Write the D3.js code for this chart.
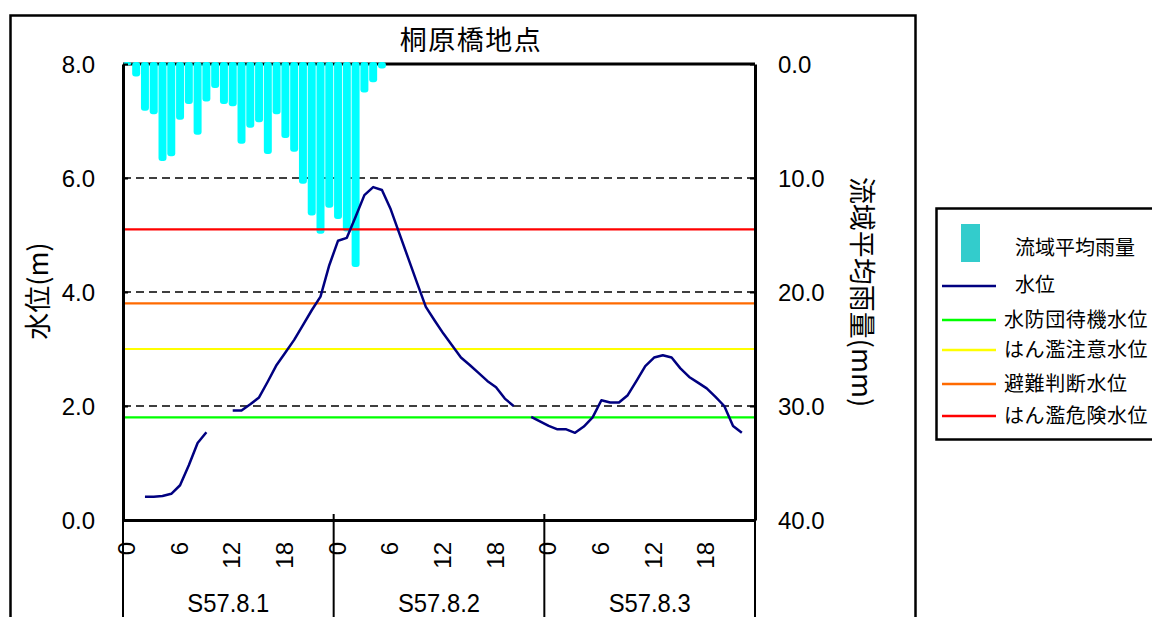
<!DOCTYPE html>
<html>
<head>
<meta charset="utf-8">
<script src="https://cdnjs.cloudflare.com/ajax/libs/d3/7.8.5/d3.min.js"></script>
<style>
    body { margin: 0; background: #fff; }
    text { font-family: "Liberation Sans", Arial, sans-serif; fill: #000; }
    .jp { font-family: "Noto Sans CJK JP", "Noto Sans", sans-serif; }
</style>
</head>
<body>
<div id="chart-area"></div>
<script>

/*
 *  Data (hourly, 3 days)
 */

var chartTitle = "桐原橋地点";
var dayLabels = ["S57.8.1", "S57.8.2", "S57.8.3"];
var hourTickLabels = [0, 6, 12, 18];
var levelTicks = [0, 2, 4, 6, 8];
var rainTicks = [0, 10, 20, 30, 40];
var gridLevels = [2, 4, 6];

// 流域平均雨量 (mm), hour 0 of day 1 onwards
var rainfall = [0.1, 1.1, 4.1, 4.4, 8.5, 8.1, 4.9, 3.5, 6.2, 3.3,
    2.1, 3.5, 3.7, 7.0, 5.6, 5.1, 7.9, 4.4, 6.5, 7.7,
    10.5, 13.3, 14.9, 12.6, 13.6, 14.7, 17.8, 2.5, 1.6, 0.4];

// 水位 (m), null = missing
var waterLevel = [null, null, 0.41, 0.41, 0.42, 0.46, 0.61, 0.96, 1.35, 1.54,
    null, null, 1.92, 1.92, 2.03, 2.15, 2.43, 2.72, 2.94, 3.16,
    3.42, 3.68, 3.92, 4.47, 4.90, 4.95, 5.32, 5.70, 5.84, 5.79,
    5.45, 5.02, 4.59, 4.16, 3.74, 3.50, 3.27, 3.06, 2.85, 2.72,
    2.58, 2.44, 2.33, 2.13, 2.00, null, 1.81, 1.73, 1.65, 1.59,
    1.59, 1.53, 1.64, 1.80, 2.10, 2.06, 2.06, 2.19, 2.44, 2.70,
    2.85, 2.89, 2.85, 2.66, 2.51, 2.41, 2.31, 2.16, 2.00, 1.65,
    1.53, null];

var refNames = ["水防団待機水位", "はん濫注意水位", "避難判断水位", "はん濫危険水位"];
var refLevels = [1.8, 3.0, 3.8, 5.1];
var refColors = ["#00ff00", "#ffff00", "#ff6a00", "#ff0000"];

var rainName = "流域平均雨量";
var levelName = "水位";


RiverChart = function(_parentElement) {
    this.parentElement = _parentElement;
    this.initVis();
};

RiverChart.prototype.initVis = function() {
    var vis = this;

    vis.svg = d3.select("#" + vis.parentElement).append("svg")
        .attr("width", 1152)
        .attr("height", 617);

    vis.left = 123;
    vis.right = 755;
    vis.top = 64;
    vis.bottom = 520;

    var hours = d3.range(dayLabels.length * 24);

    vis.x = d3.scaleBand().domain(hours).range([vis.left, vis.right]).padding(0);
    vis.xHour = d3.scaleLinear().domain([0, hours.length]).range([vis.left, vis.right]);
    vis.yLevel = d3.scaleLinear().domain([0, 8]).range([vis.bottom, vis.top]);
    vis.yRain = d3.scaleLinear().domain([0, 40]).range([vis.top, vis.bottom]);

    // outer frame
    vis.svg.append("rect")
        .attr("x", 10.5).attr("y", 15.5)
        .attr("width", 905).attr("height", 700)
        .attr("fill", "none").attr("stroke", "#000").attr("stroke-width", 2.5);

    vis.drawPlot();
    vis.drawAxes();
    vis.drawLegend();
};

RiverChart.prototype.drawPlot = function() {
    var vis = this;

    // dashed grid
    vis.svg.selectAll(".grid").data(gridLevels).enter().append("line")
        .attr("class", "grid")
        .attr("x1", vis.left).attr("x2", vis.right)
        .attr("y1", function(d) { return vis.yLevel(d); })
        .attr("y2", function(d) { return vis.yLevel(d); })
        .attr("stroke", "#000").attr("stroke-width", 1.5)
        .attr("stroke-dasharray", "8,5");

    // top border (rain bars sit over it)
    vis.svg.append("line")
        .attr("x1", vis.left).attr("x2", vis.right)
        .attr("y1", vis.top).attr("y2", vis.top)
        .attr("stroke", "#000").attr("stroke-width", 3);

    // rain bars hanging from the top
    var bw = vis.x.bandwidth();
    vis.svg.selectAll(".rain").data(rainfall).enter().append("rect")
        .attr("class", "rain")
        .attr("x", function(d, i) { return vis.x(i) + 0.4; })
        .attr("width", bw - 0.8)
        .attr("y", vis.yRain(0) - 2)
        .attr("height", function(d) { return vis.yRain(d) - vis.yRain(0) + 2; })
        .attr("rx", 3)
        .attr("fill", "#00ffff");

    // reference levels
    vis.svg.selectAll(".ref").data(refLevels).enter().append("line")
        .attr("class", "ref")
        .attr("x1", vis.left).attr("x2", vis.right)
        .attr("y1", function(d) { return vis.yLevel(d); })
        .attr("y2", function(d) { return vis.yLevel(d); })
        .attr("stroke", function(d, i) { return refColors[i]; })
        .attr("stroke-width", 2.2);

    // water level
    var line = d3.line()
        .defined(function(d) { return d !== null; })
        .x(function(d, i) { return vis.x(i) + bw / 2; })
        .y(function(d) { return vis.yLevel(d); });

    vis.svg.append("path")
        .datum(waterLevel)
        .attr("d", line)
        .attr("fill", "none")
        .attr("stroke", "#000080")
        .attr("stroke-width", 2.5)
        .attr("stroke-linejoin", "round");
};

RiverChart.prototype.drawAxes = function() {
    var vis = this;

    var fmt = d3.format(".1f");

    var leftAxis = d3.axisLeft(vis.yLevel)
        .tickValues(levelTicks).tickFormat(fmt)
        .tickSizeInner(-5).tickSizeOuter(0).tickPadding(28);
    var gl = vis.svg.append("g")
        .attr("transform", "translate(" + vis.left + ",0)")
        .call(leftAxis);

    var rightAxis = d3.axisRight(vis.yRain)
        .tickValues(rainTicks).tickFormat(fmt)
        .tickSizeInner(-5).tickSizeOuter(0).tickPadding(23);
    var gr = vis.svg.append("g")
        .attr("transform", "translate(" + vis.right + ",0)")
        .call(rightAxis);

    [gl, gr].forEach(function(g) {
        g.select(".domain").attr("stroke", "#000").attr("stroke-width", 3);
        g.selectAll(".tick line").attr("stroke", "#000").attr("stroke-width", 2);
        g.selectAll(".tick text")
            .attr("font-family", "Liberation Sans, Arial, sans-serif")
            .attr("font-size", 24)
            .attr("dy", "0.36em");
    });

    // hour ticks under the plot, rotated
    var hourTicks = [];
    dayLabels.forEach(function(d, i) {
        hourTickLabels.forEach(function(h) { hourTicks.push(i * 24 + h); });
    });

    var bottomAxis = d3.axisBottom(vis.xHour)
        .tickValues(hourTicks)
        .tickFormat(function(d) { return d % 24; })
        .tickSize(0).tickPadding(0);
    var gb = vis.svg.append("g")
        .attr("transform", "translate(0," + vis.bottom + ")")
        .call(bottomAxis);
    gb.select(".domain").attr("stroke", "#000").attr("stroke-width", 3);
    gb.selectAll(".tick text")
        .attr("font-family", "Liberation Sans, Arial, sans-serif")
        .attr("font-size", 24)
        .attr("transform", "rotate(-90)")
        .attr("text-anchor", "end")
        .attr("x", -22).attr("y", 0).attr("dy", "0.48em");

    // day separators and small inner ticks
    var days = d3.range(dayLabels.length + 1);
    vis.svg.selectAll(".daysep").data(days).enter().append("line")
        .attr("class", "daysep")
        .attr("x1", function(d) { return vis.xHour(d * 24); })
        .attr("x2", function(d) { return vis.xHour(d * 24); })
        .attr("y1", vis.bottom - 6).attr("y2", 617)
        .attr("stroke", "#000").attr("stroke-width", 2);

    vis.svg.selectAll(".daylabel").data(dayLabels).enter().append("text")
        .attr("class", "daylabel")
        .attr("x", function(d, i) { return vis.xHour(i * 24 + 12); })
        .attr("y", 612)
        .attr("text-anchor", "middle")
        .attr("font-size", 26)
        .attr("textLength", 82)
        .attr("lengthAdjust", "spacingAndGlyphs")
        .text(function(d) { return d; });

    // titles
    vis.svg.append("text").attr("class", "jp")
        .attr("x", 471).attr("y", 50)
        .attr("text-anchor", "middle")
        .attr("font-size", 27)
        .attr("letter-spacing", 1.5)
        .text(chartTitle);

    vis.svg.append("text").attr("class", "jp")
        .attr("transform", "translate(48,291) rotate(-90)")
        .attr("text-anchor", "middle")
        .attr("font-size", 27)
        .text("水位(m)");

    vis.svg.append("text").attr("class", "jp")
        .attr("transform", "translate(852,292) rotate(90)")
        .attr("text-anchor", "middle")
        .attr("font-size", 27)
        .text("流域平均雨量(mm)");
};

RiverChart.prototype.drawLegend = function() {
    var vis = this;

    var lg = vis.svg.append("g");

    lg.append("rect")
        .attr("x", 936.5).attr("y", 208.5)
        .attr("width", 240).attr("height", 231)
        .attr("fill", "#fff").attr("stroke", "#000").attr("stroke-width", 2.5);

    lg.append("rect")
        .attr("x", 961).attr("y", 224)
        .attr("width", 19).attr("height", 38)
        .attr("fill", "#33cccc");
    lg.append("text").attr("class", "jp")
        .attr("x", 1015).attr("y", 255)
        .attr("font-size", 20)
        .text(rainName);

    lg.append("line")
        .attr("x1", 942).attr("x2", 996).attr("y1", 286).attr("y2", 286)
        .attr("stroke", "#000080").attr("stroke-width", 2.5);
    lg.append("text").attr("class", "jp")
        .attr("x", 1015).attr("y", 292)
        .attr("font-size", 20)
        .text(levelName);

    var rowY = [320, 350, 384, 416];
    var items = lg.selectAll(".ref-item").data(refNames).enter().append("g")
        .attr("class", "ref-item")
        .attr("transform", function(d, i) { return "translate(0," + rowY[i] + ")"; });
    items.append("line")
        .attr("x1", 942).attr("x2", 996)
        .attr("stroke", function(d, i) { return refColors[i]; })
        .attr("stroke-width", 2.5);
    items.append("text").attr("class", "jp")
        .attr("x", 1004).attr("y", 7)
        .attr("font-size", 20)
        .attr("letter-spacing", 0.6)
        .text(function(d) { return d; });
};

var chart = new RiverChart("chart-area");

</script>
</body>
</html>
